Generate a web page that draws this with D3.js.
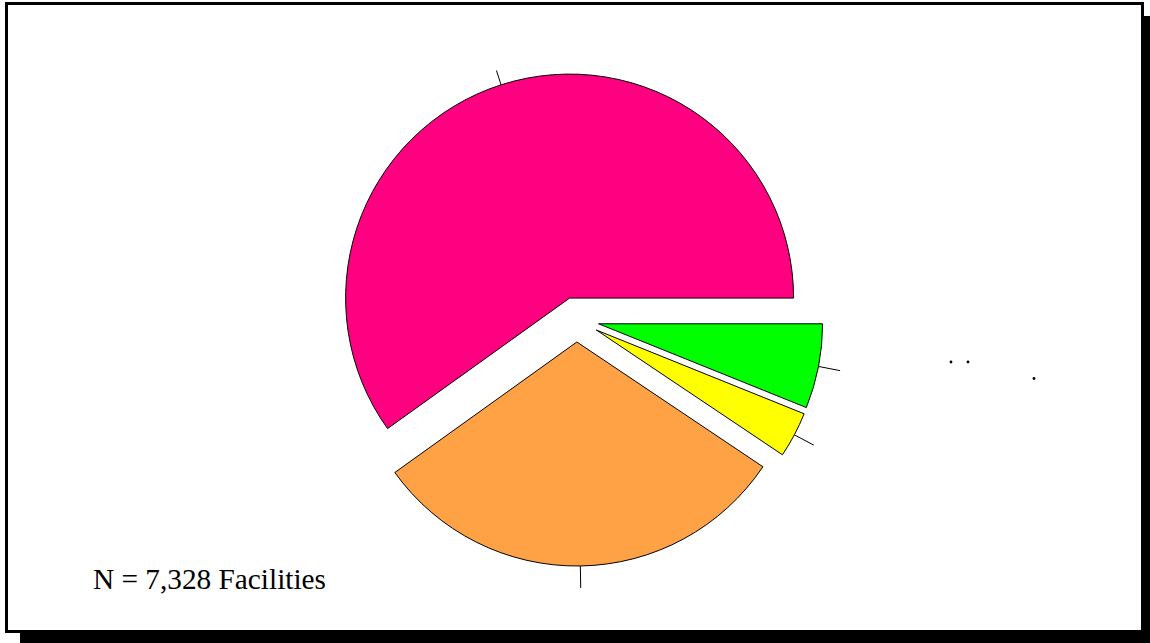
<!DOCTYPE html>
<html>
<head>
<meta charset="utf-8">
<script src="https://cdn.jsdelivr.net/npm/d3@7"></script>
<style>
  html, body { margin: 0; padding: 0; background: #fff; }
  svg { display: block; }
</style>
</head>
<body>
<svg id="chart" width="1150" height="643"></svg>
<script>
// ---- data ----
const categories = ["Category A", "Category B", "Category C", "Category D"];
const shares = [59.9, 30.7, 3.3, 6.1];           // percent of facilities
const sliceColors = ["#FF0080", "#FFA246", "#FFFF00", "#00FF00"];
const noteText = "N = 7,328 Facilities";

// ---- layout ----
const W = 1150, H = 643;
const svg = d3.select("#chart");

// drop shadow + frame
svg.append("rect").attr("x", 20).attr("y", 16).attr("width", W - 20).attr("height", H - 16).attr("fill", "#000");
svg.append("rect").attr("x", 6.5).attr("y", 3.5).attr("width", 1136).attr("height", 628)
  .attr("fill", "#fff").attr("stroke", "#000").attr("stroke-width", 3);

const cx = 576.5, cy = 319.5, R = 224, explode = 22.5;
const leaderLen = [15, 22, 22, 22];

const pie = d3.pie().sort(null).value(d => d)
  .startAngle(Math.PI / 2).endAngle(Math.PI / 2 - 2 * Math.PI);
const arcs = pie(shares);
const arc = d3.arc().innerRadius(0).outerRadius(R);

const g = svg.append("g").attr("transform", `translate(${cx},${cy})`);

arcs.forEach((a, i) => {
  const mid = (a.startAngle + a.endAngle) / 2;
  const dx = Math.sin(mid) * explode, dy = -Math.cos(mid) * explode;
  const sg = g.append("g").attr("transform", `translate(${dx},${dy})`);
  sg.append("path").attr("d", arc(a))
    .attr("fill", sliceColors[i]).attr("stroke", "#000").attr("stroke-width", 1)
    .attr("stroke-linejoin", "miter");
  sg.append("line")
    .attr("x1", Math.sin(mid) * R).attr("y1", -Math.cos(mid) * R)
    .attr("x2", Math.sin(mid) * (R + leaderLen[i])).attr("y2", -Math.cos(mid) * (R + leaderLen[i]))
    .attr("stroke", "#000").attr("stroke-width", 1);
});

// stray legend dots
[[951, 362], [968, 362], [1034, 378.5]].forEach(p => {
  svg.append("circle").attr("cx", p[0]).attr("cy", p[1]).attr("r", 1.4).attr("fill", "#000");
});

svg.append("text").attr("x", 93).attr("y", 589)
  .attr("font-family", "'Liberation Serif', 'Times New Roman', serif")
  .attr("font-size", 29.3).attr("fill", "#000").text(noteText);
</script>
</body>
</html>
